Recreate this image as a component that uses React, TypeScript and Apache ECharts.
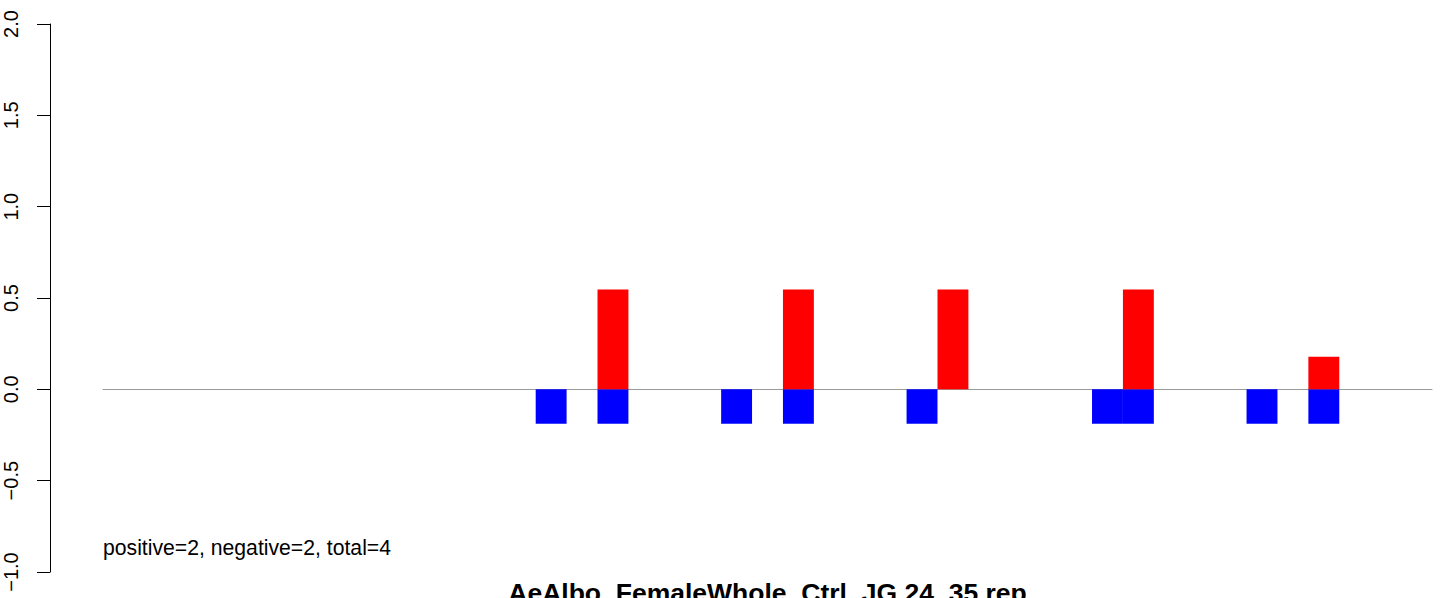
import React, { useEffect, useRef } from "react";
import * as echarts from "echarts";

// ---- data ----
const slotCount = 43;
const categories: string[] = Array.from({ length: slotCount }, (_, i) => String(i + 1));
const positiveSlots = [16, 22, 27, 33, 39];
const positiveValues = [0.546, 0.546, 0.546, 0.546, 0.179];
const negativeSlots = [14, 16, 20, 22, 26, 32, 33, 37, 39];
const negativeValues = [-0.188, -0.188, -0.188, -0.188, -0.188, -0.188, -0.188, -0.188, -0.188];
const yTicks = [-1.0, -0.5, 0.0, 0.5, 1.0, 1.5, 2.0];
const summaryText = "positive=2, negative=2, total=4";
const titleText = "AeAlbo_FemaleWhole_Ctrl_JG.24_35.rep";

function buildSeries(slots: number[], values: number[]) {
  const arr: (number | null)[] = new Array(slotCount).fill(null);
  slots.forEach((s, i) => {
    arr[s] = values[i];
  });
  return arr;
}

const FONT = "'Liberation Sans', Arial, Helvetica, sans-serif";

export default function App() {
  const ref = useRef<HTMLDivElement>(null);
  useEffect(() => {
    if (!ref.current) return;
    const chart = echarts.init(ref.current, undefined, { renderer: "svg" });
    chart.setOption({
      animation: false,
      backgroundColor: "#ffffff",
      textStyle: { fontFamily: FONT },
      grid: { left: 103, right: 12, top: 24, bottom: 26, containLabel: false },
      xAxis: {
        type: "category",
        data: categories,
        boundaryGap: true,
        axisLine: { show: true, onZero: true, lineStyle: { color: "#9a9a9a", width: 1 } },
        axisTick: { show: false },
        axisLabel: { show: false },
        splitLine: { show: false },
      },
      yAxis: {
        type: "value",
        min: yTicks[0],
        max: yTicks[yTicks.length - 1],
        interval: 0.5,
        offset: 53,
        axisLine: { show: true, lineStyle: { color: "#000", width: 1 } },
        axisTick: { show: true, length: 13, lineStyle: { color: "#000", width: 1 } },
        axisLabel: {
          rotate: 90,
          margin: 29,
          color: "#000",
          fontSize: 20,
          fontFamily: FONT,
          formatter: (v: number) => (v < 0 ? "\u2212" + Math.abs(v).toFixed(1) : v.toFixed(1)),
        },
        splitLine: { show: false },
      },
      series: [
        {
          type: "bar",
          data: buildSeries(negativeSlots, negativeValues),
          barWidth: "100%",
          barGap: "-100%",
          itemStyle: { color: "#0000FF" },
        },
        {
          type: "bar",
          data: buildSeries(positiveSlots, positiveValues),
          barWidth: "100%",
          barGap: "-100%",
          itemStyle: { color: "#FF0000" },
        },
      ],
      graphic: [
        {
          type: "text",
          left: 103,
          top: 537,
          style: { text: summaryText, fontSize: 21.2, fontFamily: FONT, fill: "#000" },
        },
        {
          type: "text",
          x: 767.5,
          y: 579,
          style: {
            text: titleText,
            fontSize: 26.5,
            fontWeight: "bold",
            fontFamily: FONT,
            fill: "#000",
            textAlign: "center",
            textVerticalAlign: "top",
          },
        },
      ],
    });
    return () => chart.dispose();
  }, []);
  return (
    <div
      ref={ref}
      style={{ position: "fixed", left: 0, top: 0, width: 1444, height: 598, background: "#fff" }}
    />
  );
}
